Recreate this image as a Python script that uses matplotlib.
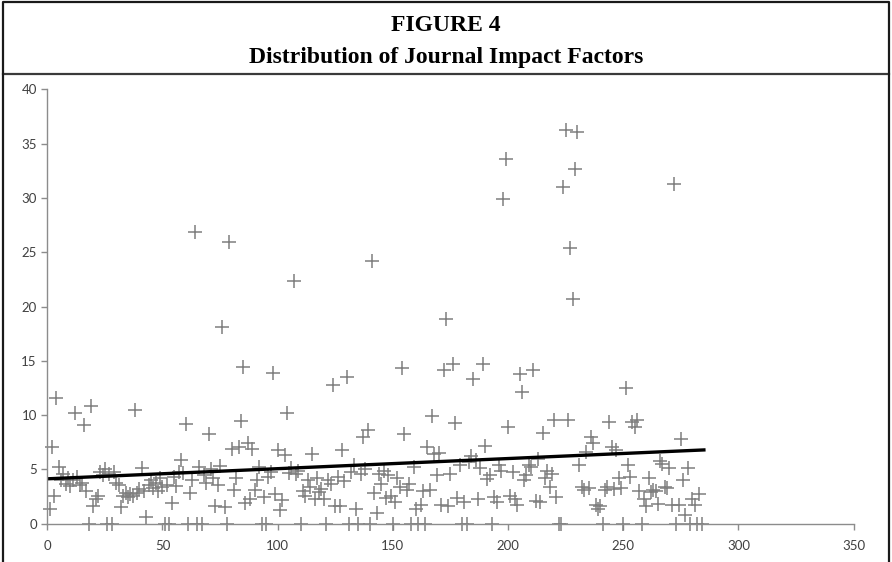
import matplotlib
matplotlib.use("Agg")
import matplotlib.pyplot as plt
from matplotlib.lines import Line2D
import numpy as np

# journal index -> impact factor
journal_index = list(range(1, 285))
impact_factor = [
    1.4, 7.1, 2.6, 11.6, 5.2, 4.0, 4.6, 3.7, 4.2, 3.5,
    4.0, 10.2, 4.3, 3.6, 3.8, 9.1, 3.0, 0.0, 10.8, 1.6,
    2.3, 2.6, 4.8, 4.5, 5.0, 0.0, 4.6, 0.0, 4.8, 3.8,
    3.6, 1.5, 2.6, 2.8, 2.5, 2.7, 2.6, 10.5, 2.8, 3.2,
    5.1, 3.0, 0.65, 3.6, 4.0, 3.3, 3.8, 3.0, 4.2, 3.4,
    0.0, 3.6, 0.0, 1.9, 4.3, 3.5, 4.8, 5.9, 4.7, 9.2,
    0.0, 2.8, 4.0, 26.9, 0.0, 5.2, 0.0, 4.5, 3.8, 8.3,
    5.0, 4.2, 1.6, 3.6, 5.3, 18.1, 1.5, 0.0, 25.9, 6.9,
    3.1, 4.2, 7.1, 9.5, 14.4, 1.9, 7.4, 2.3, 6.9, 3.1,
    4.0, 5.2, 0.0, 2.5, 0.0, 4.3, 4.8, 13.9, 2.7, 6.8,
    1.3, 2.2, 6.3, 10.2, 4.7, 5.1, 22.4, 4.6, 4.9, 0.0,
    3.0, 2.6, 4.0, 3.4, 6.4, 2.3, 4.2, 2.9, 3.2, 2.3,
    0.0, 4.0, 3.7, 12.8, 1.6, 4.3, 1.6, 6.8, 3.9, 13.5,
    0.0, 4.8, 5.4, 1.4, 0.0, 4.6, 8.0, 5.0, 8.6, 0.0,
    24.2, 2.8, 0.95, 4.6, 3.7, 4.9, 2.4, 4.5, 2.6, 0.0,
    2.0, 4.2, 3.4, 14.3, 8.3, 3.1, 3.7, 0.0, 5.2, 1.4,
    0.0, 1.7, 3.0, 0.0, 7.1, 3.1, 9.9, 6.4, 4.5, 6.5,
    1.7, 14.2, 18.9, 1.6, 4.6, 14.7, 9.3, 2.4, 5.4, 0.0,
    2.0, 0.0, 5.7, 6.2, 13.3, 5.9, 2.3, 5.1, 14.7, 7.2,
    4.1, 4.5, 0.0, 2.5, 2.0, 5.4, 4.9, 29.9, 33.6, 8.9,
    2.6, 4.8, 2.3, 1.7, 13.8, 12.1, 4.0, 4.5, 5.4, 5.2,
    14.2, 2.1, 6.0, 2.0, 8.4, 4.2, 4.9, 3.4, 4.6, 9.6,
    2.5, 0.0, 0.0, 31.0, 36.3, 9.6, 25.4, 20.7, 32.7, 36.1,
    5.4, 3.4, 3.1, 6.6, 3.3, 8.0, 7.4, 1.7, 1.4, 1.6,
    0.0, 3.1, 3.4, 9.4, 7.1, 3.2, 6.8, 4.2, 3.3, 0.0,
    12.5, 5.4, 4.3, 9.4, 8.9, 9.6, 3.0, 0.0, 2.3, 1.6,
    4.2, 2.9, 3.1, 3.0, 1.8, 5.8, 5.5, 3.4, 3.3, 5.1,
    1.7, 31.3, 0.0, 1.7, 7.8, 4.0, 0.8, 5.1, 0.0, 2.3,
    1.7, 0.0, 2.7, 0.0,
]

# linear trend line end points
trend_x = [1, 285]
trend_y = [4.15, 6.8]

fig = plt.figure(figsize=(8.92, 5.62), dpi=100)
ax = fig.add_axes([0.053, 0.068, 0.904, 0.773])

ax.plot(journal_index, impact_factor, linestyle="none", marker="+",
        markersize=10, markeredgewidth=1.1, color="#7f7f7f", clip_on=False)
ax.plot(trend_x, trend_y, color="black", linewidth=2.4)

ax.set_xlim(0, 350)
ax.set_ylim(0, 40)
ax.set_xticks(np.arange(0, 351, 50))
ax.set_yticks(np.arange(0, 41, 5))

for side in ["top", "right"]:
    ax.spines[side].set_visible(False)
for side in ["left", "bottom"]:
    ax.spines[side].set_color("#8c8c8c")
    ax.spines[side].set_linewidth(1.0)

ax.tick_params(axis="both", colors="#8c8c8c", length=4, width=1,
               labelcolor="#404040", labelsize=9.5)
ax.tick_params(axis="x", pad=8)
for lab in ax.get_xticklabels() + ax.get_yticklabels():
    lab.set_family("Lato")

# title block with frame
fig.text(0.5, 1 - 25.6 / 562, "FIGURE 4", ha="center", va="center",
         family="Liberation Serif", fontweight="bold", fontsize=17)
fig.text(0.5, 1 - 57 / 562, "Distribution of Journal Impact Factors",
         ha="center", va="center", family="Liberation Serif",
         fontweight="bold", fontsize=17)

sep_y = 1 - 74 / 562
fig.add_artist(Line2D([0.003, 0.997], [sep_y, sep_y], color="#3a3a3a",
                      linewidth=1.6, transform=fig.transFigure))
fig.add_artist(Line2D([0.003, 0.003, 0.997, 0.997], [0.0, 0.996, 0.996, 0.0],
                      color="#1a1a1a", linewidth=1.6, transform=fig.transFigure))

fig.savefig("out.png", dpi=100)
